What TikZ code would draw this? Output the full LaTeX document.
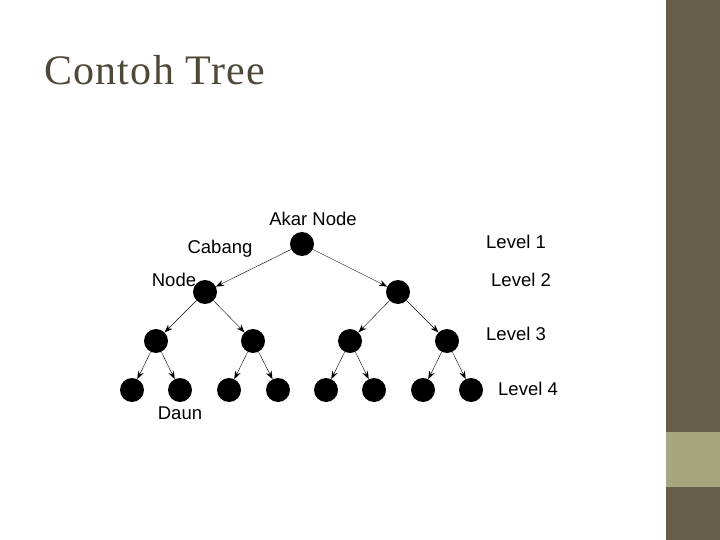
\documentclass[tikz,border=0pt]{standalone}
\usepackage{fontspec}
\setmainfont{Liberation Serif}
\newfontfamily\lab{Liberation Sans}
\usetikzlibrary{arrows.meta}
\definecolor{bar}{HTML}{665E48}
\definecolor{barl}{HTML}{A8A67F}
\definecolor{ttl}{HTML}{4F4838}
\begin{document}
\begin{tikzpicture}[x=1pt,y=-1pt,
  dot/.style={circle,fill=black,minimum size=24pt,inner sep=0pt},
  lbl/.style={font=\lab\fontsize{18.5}{18.5}\selectfont,inner sep=0pt}]
\useasboundingbox (0,0) rectangle (720,540);
\fill[bar] (666,0) rectangle (720,540);
\fill[barl] (666,432) rectangle (720,487);
\node[anchor=west,text=ttl,font=\fontsize{42}{42}\selectfont\addfontfeatures{LetterSpace=3},inner sep=0pt] (title) at (44,70) {Contoh Tree};
\node[dot] (r) at (302,244) {};
\node[dot] (a) at (205,292) {};
\node[dot] (b) at (398,292) {};
\node[dot] (a1) at (156,341) {};
\node[dot] (a2) at (253,341) {};
\node[dot] (b1) at (350,341) {};
\node[dot] (b2) at (447,341) {};
\foreach \n/\x in {l1/132,l2/180,l3/229,l4/278,l5/326,l6/374,l7/423,l8/471}
  \node[dot] (\n) at (\x,390) {};
\foreach \p/\c in {r/a,r/b,a/a1,a/a2,b/b1,b/b2,a1/l1,a1/l2,a2/l3,a2/l4,b1/l5,b1/l6,b2/l7,b2/l8}
  \draw[-{Stealth[length=8pt,width=6pt]},line width=0.4pt] (\p) -- (\c);
\node[lbl] (t1) at (313,219) {Akar Node};
\node[lbl] (t2) at (220,249) {Cabang};
\node[lbl] (t3) at (174,280) {Node};
\node[lbl] (t4) at (180,413) {Daun};
\node[lbl] (v1) at (516,242) {Level 1};
\node[lbl] (v2) at (521,280) {Level 2};
\node[lbl] (v3) at (516,334) {Level 3};
\node[lbl] (v4) at (528,389) {Level 4};
\end{tikzpicture}
\end{document}
